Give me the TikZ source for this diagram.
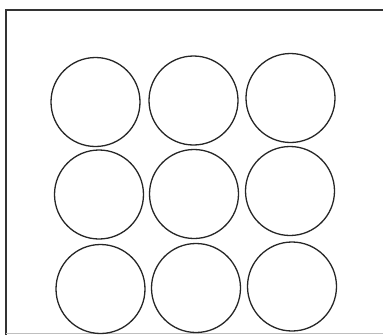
\documentclass[tikz,border=0pt]{standalone}
\begin{document}
\begin{tikzpicture}[x=1pt,y=-1pt,
  circ/.style={circle,draw=black!85,line width=1.3pt,minimum size=89pt,inner sep=0pt},
  frame/.style={draw=black!80,line width=1.4pt}]
\useasboundingbox (0,0) rectangle (383,335);
\coordinate (tl) at (6,10);
\coordinate (tr) at (383,10);
\coordinate (bl) at (6,335);
\coordinate (bl2) at (6,333.5);
\coordinate (br) at (383,333.5);
\draw[frame] (tr) -- (tl) -- (bl);
\draw[draw=black!25,line width=1pt] (bl2) -- (br);
\node[circ] (c1) at (95.5,102) {};
\node[circ] (c2) at (193.5,100.5) {};
\node[circ] (c3) at (290.5,98) {};
\node[circ] (c4) at (99,194.5) {};
\node[circ] (c5) at (194,194) {};
\node[circ] (c6) at (290,191) {};
\node[circ] (c7) at (100.5,289) {};
\node[circ] (c8) at (196,288) {};
\node[circ] (c9) at (292,286.5) {};
\end{tikzpicture}
\end{document}
